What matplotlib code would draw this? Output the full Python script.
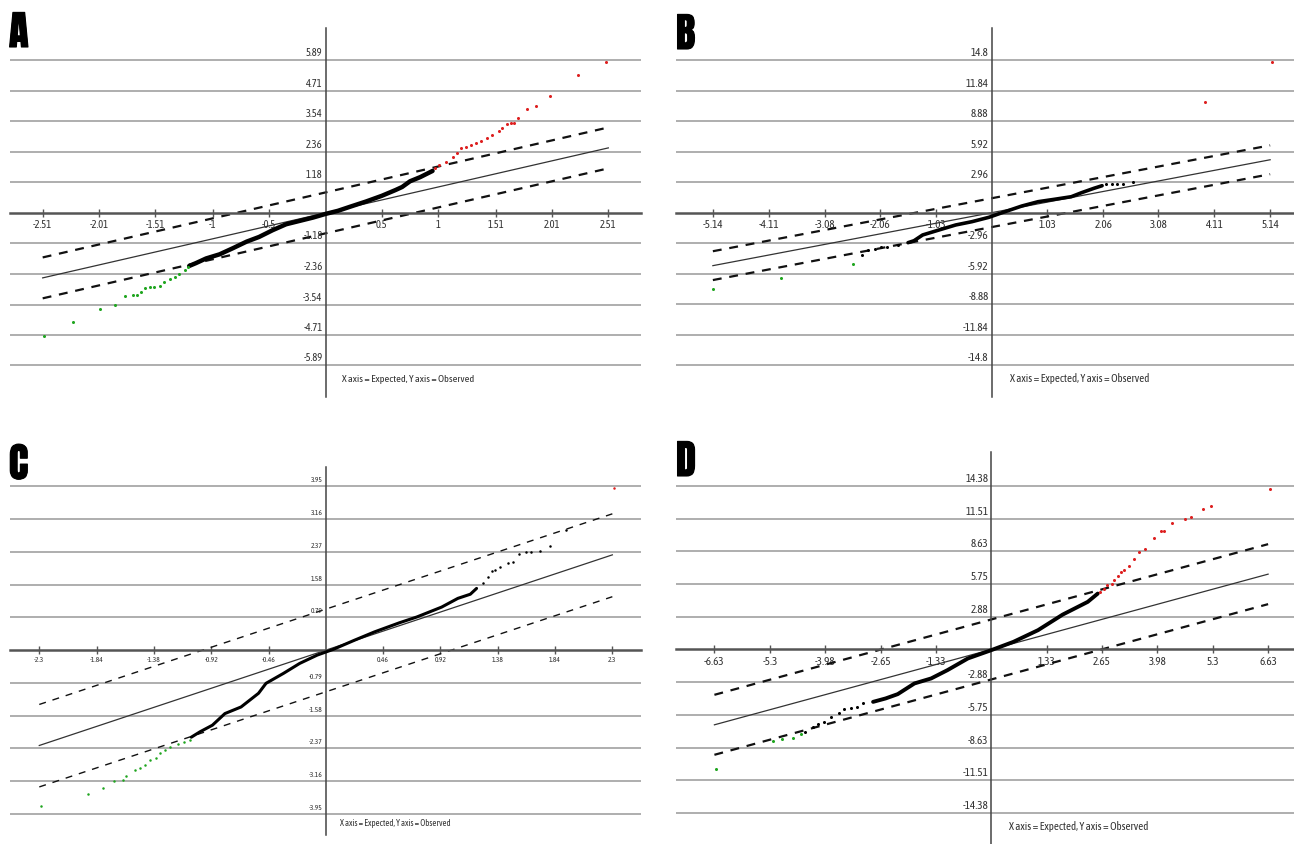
import matplotlib
matplotlib.use('Agg')
import matplotlib.pyplot as plt
import matplotlib.patheffects as pe
from matplotlib import font_manager

# ---------------- datos panel A ----------------
a_xticks = [-2.51, -2.01, -1.51, -1.0, -0.5, 0.5, 1.0, 1.51, 2.01, 2.51]
a_xlabels = ['-2.51', '-2.01', '-1.51', '-1', '-0.5', '0.5', '1', '1.51', '2.01', '2.51']
a_yticks = [5.89, 4.71, 3.54, 2.36, 1.18, -1.18, -2.36, -3.54, -4.71, -5.89]
a_ylabels = ['5.89', '4.71', '3.54', '2.36', '1.18', '-1.18', '-2.36', '-3.54', '-4.71', '-5.89']
a_ref_x = [-2.51, 2.51]
a_ref_y = [-2.51, 2.51]
a_sup_y = [-1.72, 3.30]
a_inf_y = [-3.30, 1.72]
a_negro_x = [-1.21, -1.15, -1.06, -0.94, -0.82, -0.70, -0.59, -0.47, -0.35, -0.23, -0.11, 0.0,
             0.11, 0.22, 0.36, 0.50, 0.62, 0.68, 0.75, 0.84, 0.95]
a_negro_y = [-2.05, -1.94, -1.76, -1.60, -1.36, -1.11, -0.93, -0.67, -0.44, -0.31, -0.18, -0.04,
             0.08, 0.24, 0.44, 0.66, 0.88, 1.00, 1.22, 1.38, 1.62]
a_rojo_x = [0.97, 1.01, 1.07, 1.13, 1.17, 1.20, 1.25, 1.29, 1.34, 1.38, 1.43, 1.48, 1.54, 1.57,
            1.61, 1.65, 1.67, 1.71, 1.79, 1.87, 1.99, 2.24, 2.49]
a_rojo_y = [1.73, 1.85, 1.98, 2.15, 2.31, 2.50, 2.54, 2.63, 2.69, 2.79, 2.91, 3.01, 3.18, 3.27,
            3.44, 3.46, 3.49, 3.68, 4.03, 4.13, 4.52, 5.33, 5.84]
a_verde_x = [-2.50, -2.24, -2.00, -1.87, -1.78, -1.71, -1.67, -1.64, -1.60, -1.56, -1.52, -1.47,
             -1.43, -1.38, -1.34, -1.30, -1.25, -1.22]
a_verde_y = [-4.75, -4.20, -3.70, -3.54, -3.21, -3.19, -3.19, -3.04, -2.91, -2.87, -2.85, -2.82,
             -2.65, -2.56, -2.48, -2.36, -2.20, -2.10]

# ---------------- datos panel B ----------------
b_xticks = [-5.14, -4.11, -3.08, -2.06, -1.03, 1.03, 2.06, 3.08, 4.11, 5.14]
b_xlabels = ['-5.14', '-4.11', '-3.08', '-2.06', '-1.03', '1.03', '2.06', '3.08', '4.11', '5.14']
b_yticks = [14.8, 11.84, 8.88, 5.92, 2.96, -2.96, -5.92, -8.88, -11.84, -14.8]
b_ylabels = ['14.8', '11.84', '8.88', '5.92', '2.96', '-2.96', '-5.92', '-8.88', '-11.84', '-14.8']
b_ref_x = [-5.14, 5.14]
b_ref_y = [-5.14, 5.14]
b_sup_y = [-3.74, 6.54]
b_inf_y = [-6.54, 3.74]
b_negro_x = [-1.54, -1.43, -1.27, -0.97, -0.66, -0.36, -0.05, 0.25, 0.56, 0.86, 1.16, 1.47,
             1.66, 1.89, 2.04]
b_negro_y = [-2.91, -2.72, -2.16, -1.68, -1.19, -0.87, -0.45, 0.10, 0.65, 1.07, 1.30, 1.55,
             1.94, 2.37, 2.62]
b_puntos_x = [-2.38, -2.28, -2.15, -2.04, -1.92, -1.73, 2.12, 2.22, 2.32, 2.42, 2.61]
b_puntos_y = [-4.11, -3.62, -3.55, -3.36, -3.30, -3.13, 2.76, 2.76, 2.82, 2.82, 2.95]
b_rojo_x = [3.94, 5.17]
b_rojo_y = [10.77, 14.65]
b_verde_x = [-5.13, -3.89, -2.56]
b_verde_y = [-7.37, -6.37, -4.98]

# ---------------- datos panel C ----------------
c_xticks = [-2.3, -1.84, -1.38, -0.92, -0.46, 0.46, 0.92, 1.38, 1.84, 2.3]
c_xlabels = ['-2.3', '-1.84', '-1.38', '-0.92', '-0.46', '0.46', '0.92', '1.38', '1.84', '2.3']
c_yticks = [3.95, 3.16, 2.37, 1.58, 0.79, -0.79, -1.58, -2.37, -3.16, -3.95]
c_ylabels = ['3.95', '3.16', '2.37', '1.58', '0.79', '-0.79', '-1.58', '-2.37', '-3.16', '-3.95']
c_ref_x = [-2.3, 2.3]
c_ref_y = [-2.3, 2.3]
c_sup_y = [-1.31, 3.29]
c_inf_y = [-3.30, 1.29]
c_negro_x = [-1.08, -1.01, -0.91, -0.81, -0.68, -0.54, -0.48, -0.34, -0.21, -0.07, 0.06, 0.23,
             0.39, 0.59, 0.73, 0.93, 1.06, 1.16, 1.21]
c_negro_y = [-2.10, -1.97, -1.81, -1.53, -1.37, -1.04, -0.80, -0.56, -0.32, -0.12, 0.02, 0.24,
             0.44, 0.66, 0.80, 1.04, 1.25, 1.35, 1.49]
c_puntos_x = [1.26, 1.30, 1.33, 1.36, 1.40, 1.46, 1.50, 1.55, 1.61, 1.65, 1.72, 1.80, 1.93]
c_puntos_y = [1.61, 1.77, 1.91, 1.93, 2.01, 2.10, 2.13, 2.31, 2.37, 2.37, 2.39, 2.51, 2.91]
c_rojo_x = [2.31]
c_rojo_y = [3.92]
c_verde_x = [-2.29, -1.91, -1.79, -1.70, -1.63, -1.60, -1.53, -1.49, -1.45, -1.41, -1.36,
             -1.33, -1.29, -1.25, -1.19, -1.14, -1.09]
c_verde_y = [-3.77, -3.47, -3.33, -3.15, -3.13, -3.04, -2.89, -2.85, -2.77, -2.65, -2.61,
             -2.47, -2.41, -2.34, -2.26, -2.21, -2.17]

# ---------------- datos panel D ----------------
d_xticks = [-6.63, -5.3, -3.98, -2.65, -1.33, 1.33, 2.65, 3.98, 5.3, 6.63]
d_xlabels = ['-6.63', '-5.3', '-3.98', '-2.65', '-1.33', '1.33', '2.65', '3.98', '5.3', '6.63']
d_yticks = [14.38, 11.51, 8.63, 5.75, 2.88, -2.88, -5.75, -8.63, -11.51, -14.38]
d_ylabels = ['14.38', '11.51', '8.63', '5.75', '2.88', '-2.88', '-5.75', '-8.63', '-11.51', '-14.38']
d_ref_x = [-6.63, 6.63]
d_ref_y = [-6.63, 6.63]
d_sup_y = [-3.99, 9.27]
d_inf_y = [-9.27, 3.99]
d_negro_x = [-2.83, -2.53, -2.24, -1.84, -1.44, -1.05, -0.56, 0.0, 0.53, 1.12, 1.71, 2.31, 2.55]
d_negro_y = [-4.61, -4.31, -3.93, -2.99, -2.55, -1.82, -0.79, -0.06, 0.67, 1.70, 3.07, 4.19, 4.92]
d_puntos_x = [-4.46, -4.26, -4.16, -4.01, -3.84, -3.65, -3.52, -3.37, -3.22, -3.07]
d_puntos_y = [-7.25, -6.81, -6.60, -6.37, -5.93, -5.63, -5.28, -5.19, -5.10, -4.75]
d_rojo_x = [2.60, 2.70, 2.78, 2.88, 2.95, 3.03, 3.10, 3.18, 3.30, 3.41, 3.54, 3.69, 3.89,
            4.06, 4.13, 4.33, 4.63, 4.79, 5.07, 5.27, 6.67]
d_rojo_y = [5.07, 5.36, 5.65, 5.80, 6.10, 6.45, 6.83, 6.97, 7.35, 7.92, 8.58, 8.88, 9.85,
            10.43, 10.43, 11.13, 11.52, 11.66, 12.40, 12.60, 14.16]
d_verde_x = [-6.60, -5.22, -5.02, -4.75, -4.56]
d_verde_y = [-10.55, -8.04, -7.89, -7.83, -7.48]

nota = 'X axis = Expected, Y axis = Observed'
letras = ['A', 'B', 'C', 'D']

W, H = 1294, 844


def buscar_fuente(claves, respaldo):
    # busca la primera fuente instalada cuyo archivo contenga alguna clave
    for clave in claves:
        for f in font_manager.fontManager.ttflist:
            if clave.lower() in f.fname.lower().replace(' ', ''):
                return f.fname, True
    return respaldo, False


fuente_txt, txt_estrecha = buscar_fuente(['PTSansNarrow-Regular', 'LiberationSansNarrow-Regular',
                                          'AsapCondensed-Regular', 'ArchivoNarrow-Regular',
                                          'DejaVuSansCondensed.ttf'],
                                         'Liberation Sans')
fuente_letra, _ = buscar_fuente(['Impact', 'Anton-Regular', 'Oswald', 'LiberationSansNarrow-Bold.'],
                                'Liberation Sans')
ESCALA = 1.0 if txt_estrecha else 0.82


def prop(fuente, size, bold=False):
    if fuente.endswith('.ttf') or fuente.endswith('.otf'):
        return font_manager.FontProperties(fname=fuente, size=size)
    return font_manager.FontProperties(family=fuente, size=size, weight='bold' if bold else 'normal')


def caja(x0, y0, x1, y1):
    # convierte pixeles de la imagen a fracciones de figura
    return [x0 / W, 1 - y1 / H, (x1 - x0) / W, (y1 - y0) / H]


def marco(ax, xlim, ylim, xticks, xlabels, yticks, ylabels, fs, fs_nota, nota_off):
    fs = fs * ESCALA
    fs_nota = fs_nota * ESCALA
    ax.set_xlim(xlim)
    ax.set_ylim(ylim)
    ax.set_facecolor('none')
    for v in yticks:
        ax.axhline(v, color='#a8a8a8', lw=1.3, zorder=1)
    for s in ['top', 'right']:
        ax.spines[s].set_visible(False)
    ax.spines['left'].set_position(('data', 0))
    ax.spines['bottom'].set_position(('data', 0))
    ax.spines['left'].set_color('#444444')
    ax.spines['left'].set_linewidth(1.1)
    ax.spines['bottom'].set_color('#555555')
    ax.spines['bottom'].set_linewidth(1.8)
    ax.set_xticks(xticks, xlabels)
    ax.set_yticks([])
    ax.tick_params(axis='x', direction='inout', length=6, width=1, color='#555555',
                   pad=1.5, labelcolor='#333333')
    for lab in ax.get_xticklabels():
        lab.set_fontproperties(prop(fuente_txt, fs))
    for v, t in zip(yticks, ylabels):
        ax.annotate(t, (0, v), xytext=(-3, 2), textcoords='offset pixels', ha='right',
                    va='bottom', fontproperties=prop(fuente_txt, fs), color='#333333')
    ax.annotate(nota, (0, 0), xycoords=('data', 'axes fraction'), xytext=nota_off,
                textcoords='offset pixels', ha='left', va='center',
                fontproperties=prop(fuente_txt, fs_nota), color='#333333')


def lineas(ax, rx, ry, sy, iy, lw_d, guion):
    ax.plot(rx, ry, color='#333333', lw=0.9, zorder=2)
    ax.plot(rx, sy, color='#111111', lw=lw_d, ls=(0, guion), zorder=2)
    ax.plot(rx, iy, color='#111111', lw=lw_d, ls=(0, guion), zorder=2)


fig = plt.figure(figsize=(12.94, 8.44), dpi=100)
ax_a = fig.add_axes(caja(10, 28, 641, 397))
ax_b = fig.add_axes(caja(676, 28, 1294, 397))
ax_c = fig.add_axes(caja(10, 467, 641, 835))
ax_d = fig.add_axes(caja(676, 452, 1294, 844))

VERDE = '#1fa51f'
ROJO = '#dd1f1f'

# panel A
marco(ax_a, (-2.80, 2.80), (-7.11, 7.14), a_xticks, a_xlabels, a_yticks, a_ylabels, 7.6, 7.4, (16, 18))
lineas(ax_a, a_ref_x, a_ref_y, a_sup_y, a_inf_y, 1.6, (4, 3.5))
ax_a.plot(a_negro_x, a_negro_y, color='black', lw=3.2, zorder=3, solid_capstyle='round')
ax_a.plot(a_rojo_x, a_rojo_y, 'o', color=ROJO, ms=2.2, mew=0, zorder=4)
ax_a.plot(a_verde_x, a_verde_y, 'o', color=VERDE, ms=2.2, mew=0, zorder=4)

# panel B
marco(ax_b, (-5.82, 5.58), (-17.89, 17.93), b_xticks, b_xlabels, b_yticks, b_ylabels, 8.0, 7.8, (18, 18))
lineas(ax_b, b_ref_x, b_ref_y, b_sup_y, b_inf_y, 1.6, (4, 3.5))
ax_b.plot(b_negro_x, b_negro_y, color='black', lw=2.6, zorder=3, solid_capstyle='round')
ax_b.plot(b_puntos_x, b_puntos_y, 'o', color='black', ms=2.2, mew=0, zorder=4)
ax_b.plot(b_rojo_x, b_rojo_y, 'o', color=ROJO, ms=2.2, mew=0, zorder=4)
ax_b.plot(b_verde_x, b_verde_y, 'o', color=VERDE, ms=2.2, mew=0, zorder=4)

# panel C
marco(ax_c, (-2.535, 2.53), (-4.46, 4.42), c_xticks, c_xlabels, c_yticks, c_ylabels, 5.4, 6.2, (14, 12))
lineas(ax_c, c_ref_x, c_ref_y, c_sup_y, c_inf_y, 1.0, (5, 5))
ax_c.plot(c_negro_x, c_negro_y, color='black', lw=2.2, zorder=3, solid_capstyle='round')
ax_c.plot(c_puntos_x, c_puntos_y, 'o', color='black', ms=1.8, mew=0, zorder=4)
ax_c.plot(c_rojo_x, c_rojo_y, 'o', color=ROJO, ms=1.8, mew=0, zorder=4)
ax_c.plot(c_verde_x, c_verde_y, 'o', color=VERDE, ms=1.8, mew=0, zorder=4)

# panel D
marco(ax_d, (-7.55, 7.25), (-17.12, 17.38), d_xticks, d_xlabels, d_yticks, d_ylabels, 8.0, 7.8, (18, 17))
lineas(ax_d, d_ref_x, d_ref_y, d_sup_y, d_inf_y, 1.6, (4, 3.5))
ax_d.plot(d_negro_x, d_negro_y, color='black', lw=2.8, zorder=3, solid_capstyle='round')
ax_d.plot(d_puntos_x, d_puntos_y, 'o', color='black', ms=2.2, mew=0, zorder=4)
ax_d.plot(d_rojo_x, d_rojo_y, 'o', color=ROJO, ms=2.2, mew=0, zorder=4)
ax_d.plot(d_verde_x, d_verde_y, 'o', color=VERDE, ms=2.2, mew=0, zorder=4)

# letras de los paneles
for letra, (px, py) in zip(letras, [(9, 12), (676, 14), (9, 444), (676, 441)]):
    fig.text(px / W, 1 - py / H, letra, ha='left', va='top', color='black',
             fontproperties=prop(fuente_letra, 29, bold=True),
             path_effects=[pe.withStroke(linewidth=0.8, foreground='black')])

fig.savefig('out.png', dpi=100)
